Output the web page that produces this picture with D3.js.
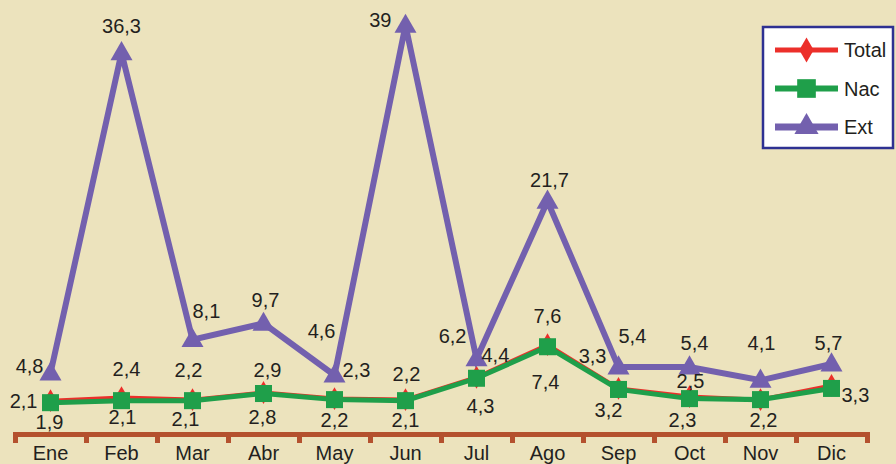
<!DOCTYPE html>
<html>
<head>
<meta charset="utf-8">
<script src="https://cdn.jsdelivr.net/npm/d3@7"></script>
<style>
  html, body { margin: 0; padding: 0; background: #ece3bd; }
  svg { display: block; font-family: "Liberation Sans", Arial, sans-serif; }
</style>
</head>
<body>
<div class="chart"></div>
<script>
// months and the three series (values as printed on the chart)
var months = ["Ene", "Feb", "Mar", "Abr", "May", "Jun", "Jul", "Ago", "Sep", "Oct", "Nov", "Dic"];
var totalValues = [2.1, 2.4, 2.2, 2.9, 2.3, 2.2, 4.4, 7.6, 3.3, 2.5, 2.2, 3.6];
var nacValues = [1.9, 2.1, 2.1, 2.8, 2.2, 2.1, 4.3, 7.4, 3.2, 2.3, 2.2, 3.3];
var extValues = [4.8, 36.3, 8.1, 9.7, 4.6, 39, 6.2, 21.7, 5.4, 5.4, 4.1, 5.7];
var seriesNames = ["Total", "Nac", "Ext"];

// where each value label sits around its point: [anchor, dx, dy], null = no label
var totalLabelPos = [
  ["end", -13, 7], ["middle", 5, -22], ["middle", -4, -23], ["middle", 4, -16],
  ["start", 8, -22], ["middle", 1, -19], ["start", 5, -15], ["middle", 0, -22],
  ["end", -12, -25], ["middle", 1, -9], null, null
];
var nacLabelPos = [
  ["middle", -1, 26], ["middle", 1, 23], ["middle", -7, 25], ["middle", -1, 30],
  ["middle", 0, 27], ["middle", 0, 26], ["middle", 4, 35], ["middle", -2, 42],
  ["middle", -10, 28], ["middle", -7, 28], ["middle", 3, 27], ["start", 10, 14]
];
var extLabelPos = [
  ["end", -7, 0], ["middle", 0, -20], ["start", 0, -22], ["middle", 2, -16],
  ["end", 1, -37], ["end", -14, 2], ["end", -10, -16], ["middle", 2, -14],
  ["start", 0, -24], ["middle", 5, -17], ["middle", 1, -30], ["middle", -3, -14]
];

var width = 896, height = 464;
var bg = "#ece3bd";
var axisColor = "#b4512e";
var textColor = "#231f20";
var fontSize = "20px";

var svg = d3.select(".chart").append("svg")
  .attr("width", width)
  .attr("height", height);

svg.append("rect").attr("width", width).attr("height", height).attr("fill", bg);

var x = d3.scaleBand().domain(months).range([15, 867]);
var xEdges = d3.scaleLinear().domain([0, months.length]).range([15, 867]);
var y = d3.scaleLinear().domain([0, 41]).range([422, 5]);

var axisY = 434;

// tick marks at band boundaries
var tickAxis = d3.axisBottom(xEdges)
  .ticks(months.length)
  .tickSize(9)
  .tickSizeOuter(9)
  .tickFormat("");

var gTicks = svg.append("g")
  .attr("transform", "translate(0," + axisY + ")")
  .call(tickAxis);
gTicks.select(".domain").attr("stroke", axisColor).attr("stroke-width", 5).attr("fill", "none");
gTicks.selectAll("line").attr("stroke", axisColor).attr("stroke-width", 5);

// month labels
var labelAxis = d3.axisBottom(x).tickSize(0).tickPadding(12);
var gLabels = svg.append("g")
  .attr("transform", "translate(0," + axisY + ")")
  .call(labelAxis);
gLabels.select(".domain").remove();
gLabels.selectAll("text")
  .attr("font-size", fontSize)
  .attr("font-family", "'Liberation Sans', Arial, sans-serif")
  .attr("fill", textColor);

var cx = function(i) { return x(months[i]) + x.bandwidth() / 2; };

var seriesConfig = [
  { name: "Total", values: totalValues, color: "#ec2f2a", width: 4, marker: d3.symbolDiamond, size: 150, labels: totalLabelPos },
  { name: "Nac", values: nacValues, color: "#1f9f4a", width: 5, marker: d3.symbolSquare, size: 290, labels: nacLabelPos },
  { name: "Ext", values: extValues, color: "#7360ae", width: 6, marker: d3.symbolTriangle, size: 210, labels: extLabelPos }
];

var line = d3.line()
  .x(function(d, i) { return cx(i); })
  .y(function(d) { return y(d); });

seriesConfig.forEach(function(s) {
  var g = svg.append("g").attr("class", "series-" + s.name);
  g.append("path")
    .datum(s.values)
    .attr("d", line)
    .attr("fill", "none")
    .attr("stroke", s.color)
    .attr("stroke-width", s.width)
    .attr("stroke-linejoin", "miter");

  g.selectAll("path.marker")
    .data(s.values)
    .enter()
    .append("path")
      .attr("class", "marker")
      .attr("d", d3.symbol().type(s.marker).size(s.size))
      .attr("transform", function(d, i) {
        //nudge the triangle so its visual centre lands on the point
        var off = s.marker === d3.symbolTriangle ? 1 : 0;
        return "translate(" + cx(i) + "," + (y(d) + off) + ")";
      })
      .attr("fill", s.color);
});

// value labels on top of everything
seriesConfig.forEach(function(s) {
  var lg = svg.append("g").attr("class", "labels");
  s.values.forEach(function(v, i) {
    var p = s.labels[i];
    if (!p) return;
    lg.append("text")
      .attr("x", cx(i) + p[1])
      .attr("y", y(v) + p[2])
      .attr("text-anchor", p[0])
      .attr("font-size", fontSize)
      .attr("fill", textColor)
      .text(String(v).replace(".", ","));
  });
});

// legend
var legend = svg.append("g").attr("class", "legend");
legend.append("rect")
  .attr("x", 763).attr("y", 27)
  .attr("width", 130).attr("height", 121)
  .attr("fill", "#ffffff")
  .attr("stroke", "#2e3192")
  .attr("stroke-width", 2.5);

seriesConfig.forEach(function(s, k) {
  var ly = 50 + k * 38.5;
  legend.append("line")
    .attr("x1", 775).attr("x2", 838)
    .attr("y1", ly).attr("y2", ly)
    .attr("stroke", s.color)
    .attr("stroke-width", s.width + 1);
  legend.append("path")
    .attr("d", d3.symbol().type(s.marker).size(s.size * 1.2))
    .attr("transform", "translate(806.5," + ly + ")")
    .attr("fill", s.color);
  legend.append("text")
    .attr("x", 844)
    .attr("y", ly + 7)
    .attr("font-size", fontSize)
    .attr("fill", textColor)
    .text(seriesNames[k]);
});
</script>
</body>
</html>
